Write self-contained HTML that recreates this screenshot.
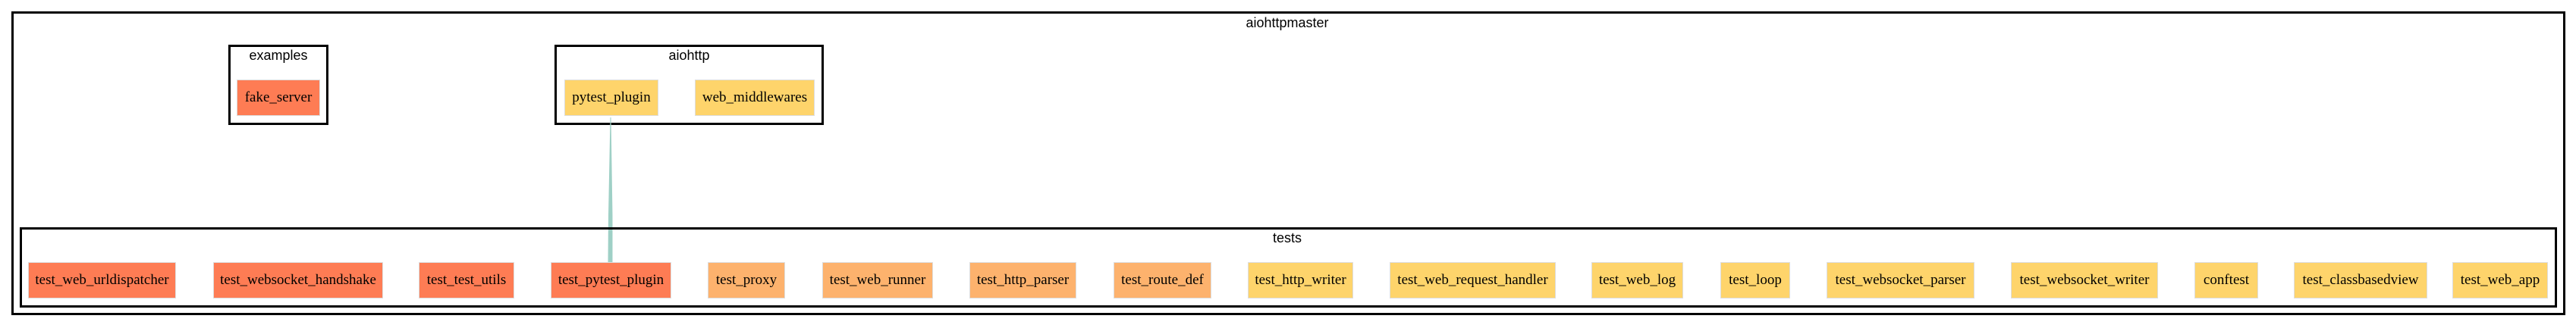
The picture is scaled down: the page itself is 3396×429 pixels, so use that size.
<!DOCTYPE html>
<html><head><meta charset="utf-8"><style>
body{margin:0;width:3396px;height:429px;background:#fff;position:relative;overflow:hidden}
.b{position:absolute;border:3px solid #000;box-sizing:border-box}
.t{position:absolute;font-family:"Liberation Sans",sans-serif;font-size:18px;color:#000;text-align:center}
.n{position:absolute;top:346px;height:48px;box-sizing:border-box;border:1px solid #ddd;font-family:"Liberation Serif",serif;font-size:19px;display:flex;align-items:center;justify-content:center;white-space:nowrap}
.r{background:#fe7c54}.o{background:#fdb26d}.y{background:#fed46b}
</style></head><body>
<div class="b" style="left:15px;top:15px;width:3367px;height:401px"></div>
<div class="t" style="left:1597px;top:20px;width:200px">aiohttpmaster</div>
<div class="b" style="left:301px;top:59px;width:132px;height:106px"></div>
<div class="t" style="left:301px;top:63px;width:132px">examples</div>
<div class="n r" style="left:312px;top:105px;width:110px">fake_server</div>
<div class="b" style="left:731px;top:59px;width:355px;height:106px"></div>
<div class="t" style="left:731px;top:63px;width:355px">aiohttp</div>
<div class="n y" style="left:744px;top:105px;width:124px">pytest_plugin</div>
<div class="n y" style="left:916px;top:105px;width:158px">web_middlewares</div>
<svg style="position:absolute;left:0;top:0" width="3396" height="429"><polygon points="804.5,155 805.5,155 807.5,285 807.5,346 801.5,346 802,285" fill="#9fd0c6"/></svg>
<div class="b" style="left:26px;top:300px;width:3345px;height:106px"></div>
<div class="t" style="left:1597px;top:304px;width:200px">tests</div>
<div class="n r" style="left:37px;width:195px">test_web_urldispatcher</div>
<div class="n r" style="left:281px;width:224px">test_websocket_handshake</div>
<div class="n r" style="left:552px;width:126px">test_test_utils</div>
<div class="n r" style="left:726px;width:159px">test_pytest_plugin</div>
<div class="n o" style="left:933px;width:102px">test_proxy</div>
<div class="n o" style="left:1084px;width:146px">test_web_runner</div>
<div class="n o" style="left:1278px;width:141px">test_http_parser</div>
<div class="n o" style="left:1468px;width:129px">test_route_def</div>
<div class="n y" style="left:1645px;width:139px">test_http_writer</div>
<div class="n y" style="left:1832px;width:219px">test_web_request_handler</div>
<div class="n y" style="left:2098px;width:121px">test_web_log</div>
<div class="n y" style="left:2268px;width:92px">test_loop</div>
<div class="n y" style="left:2408px;width:195px">test_websocket_parser</div>
<div class="n y" style="left:2651px;width:194px">test_websocket_writer</div>
<div class="n y" style="left:2893px;width:84px">conftest</div>
<div class="n y" style="left:3024px;width:176px">test_classbasedview</div>
<div class="n y" style="left:3233px;width:126px">test_web_app</div>
</body></html>
